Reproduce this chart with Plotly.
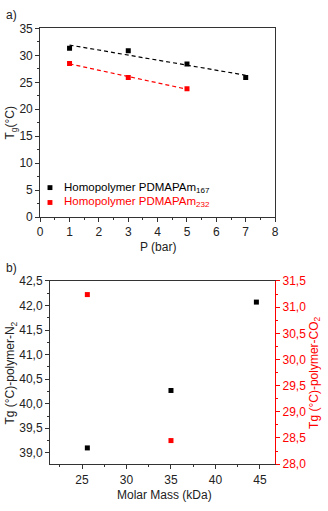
import numpy as np
import plotly.graph_objects as go

# ---------------------------------------------------------------------------
# Data
# ---------------------------------------------------------------------------
# a) Tg vs pressure
pressure_167 = [1, 3, 5, 7]
tg_167 = [31.3, 30.85, 28.4, 25.9]
pressure_232 = [1, 3, 5]
tg_232 = [28.5, 25.9, 23.8]

# b) Tg vs molar mass
molar_mass_n2 = [25.6, 35.0, 44.6]
tg_n2 = [39.1, 40.27, 42.07]
molar_mass_co2 = [25.6, 35.0]
tg_co2 = [31.24, 28.45]

W, H = 328, 511
RED = "#ff0000"
FONT = "Liberation Sans"


def px_x(p):
    return p / W


def px_y(p):
    return 1 - p / H


def fit(x, y):
    k, b = np.polyfit(x, y, 1)
    xs = np.array([min(x), max(x)])
    return xs, k * xs + b


fig = go.Figure()

# panel a markers + linear fits
for xs, ys, col in [(pressure_167, tg_167, "black"), (pressure_232, tg_232, RED)]:
    fx, fy = fit(xs, ys)
    fig.add_trace(go.Scatter(x=fx, y=fy, mode="lines", xaxis="x", yaxis="y",
                             line=dict(color=col, width=1.2, dash="4px,3px"),
                             showlegend=False))
    fig.add_trace(go.Scatter(x=xs, y=ys, mode="markers", xaxis="x", yaxis="y",
                             marker=dict(symbol="square", size=5, color=col),
                             showlegend=False))

# panel b markers
fig.add_trace(go.Scatter(x=molar_mass_n2, y=tg_n2, mode="markers", xaxis="x2", yaxis="y3",
                         marker=dict(symbol="square", size=5, color="black"),
                         showlegend=False))
fig.add_trace(go.Scatter(x=molar_mass_co2, y=tg_co2, mode="markers", xaxis="x2", yaxis="y4",
                         marker=dict(symbol="square", size=5, color=RED),
                         showlegend=False))

base = dict(showgrid=False, zeroline=False, showline=True, linecolor="#333333", linewidth=1,
            ticks="outside", ticklen=4, tickwidth=1, tickcolor="#333333",
            tickfont=dict(family=FONT, size=12, color="#222222"))
inside = dict(showgrid=False, zeroline=False, showline=False, ticks="inside", ticklen=3,
              tickcolor="#333333", showticklabels=False)

dom_a_x = [px_x(38), px_x(278)]
dom_a_y = [px_y(216), px_y(22)]
dom_b_x = [px_x(48), px_x(278)]
dom_b_y = [px_y(470), px_y(281.7)]

fig.update_layout(
    width=W, height=H,
    margin=dict(l=0, r=0, t=0, b=0),
    paper_bgcolor="white", plot_bgcolor="white",
    separators=",.",
    showlegend=False,
    font=dict(family=FONT, size=12, color="#222222"),
    xaxis=dict(**base, domain=dom_a_x, anchor="y", range=[0, 8], dtick=1, mirror=True,
               minor=dict(dtick=0.5, ticks="outside", ticklen=2, tickcolor="#333333")),
    yaxis=dict(**base, domain=dom_a_y, anchor="x", range=[0, 35], dtick=5, mirror=True,
               minor=dict(dtick=2.5, ticks="outside", ticklen=2, tickcolor="#333333")),
    xaxis3=dict(**inside, overlaying="x", anchor="y", side="top", range=[0, 8], dtick=1),
    yaxis5=dict(**inside, overlaying="y", anchor="x", side="right", range=[0, 35], dtick=5),
    xaxis2=dict(**base, domain=dom_b_x, anchor="y3", range=[21.4, 46.7], tick0=25, dtick=5,
                mirror=True,
                minor=dict(dtick=2.5, ticks="outside", ticklen=2, tickcolor="#333333")),
    xaxis4=dict(**inside, overlaying="x2", anchor="y3", side="top", range=[21.4, 46.7],
                tick0=25, dtick=2.5),
    yaxis3=dict(**base, domain=dom_b_y, anchor="x2", range=[38.77, 42.5], dtick=0.5,
                tickformat=".1f",
                minor=dict(dtick=0.25, ticks="outside", ticklen=2, tickcolor="#333333")),
    yaxis4=dict(showgrid=False, zeroline=False, showline=True, linecolor=RED, linewidth=1,
                ticks="outside", ticklen=4, tickcolor=RED,
                tickfont=dict(family=FONT, size=12, color=RED),
                overlaying="y3", anchor="x2", side="right", range=[28, 31.5], dtick=0.5,
                tickformat=".1f",
                minor=dict(dtick=0.25, ticks="outside", ticklen=2, tickcolor=RED)),
)

# legend drawn by hand inside panel a
legend_items = [("Homopolymer PDMAPAm<sub>167</sub>", "black", 185.7),
                ("Homopolymer PDMAPAm<sub>232</sub>", RED, 201.0)]
for label, col, yy in legend_items:
    fig.add_shape(type="rect", xref="paper", yref="paper",
                  x0=px_x(45.5), x1=px_x(50.5), y0=px_y(yy + 2.5), y1=px_y(yy - 2.5),
                  fillcolor=col, line=dict(width=0))
    fig.add_annotation(x=px_x(60), y=px_y(yy), xref="paper", yref="paper", text=label,
                       showarrow=False, xanchor="left", yanchor="middle",
                       font=dict(family=FONT, size=11.5, color=col))

annots = [
    dict(text="a)", x=px_x(1), y=px_y(8), xanchor="left"),
    dict(text="b)", x=px_x(1), y=px_y(268), xanchor="left"),
    dict(text="P (bar)", x=px_x(158), y=px_y(247), xanchor="center"),
    dict(text="Molar Mass (kDa)", x=px_x(165), y=px_y(502), xanchor="center"),
    dict(text="T<sub>g</sub>(°C)", x=px_x(8), y=px_y(119), textangle=-90, xanchor="center"),
    dict(text="Tg (°C)-polymer-N<sub>2</sub>", x=px_x(8), y=px_y(376), textangle=-90,
         xanchor="center"),
    dict(text="Tg (°C)-polymer-CO<sub>2</sub>", x=px_x(318), y=px_y(376), textangle=-90,
         xanchor="center", font=dict(family=FONT, size=12, color=RED)),
]
for a in annots:
    a.setdefault("font", dict(family=FONT, size=12, color="#222222"))
    fig.add_annotation(xref="paper", yref="paper", showarrow=False, yanchor="middle", **a)

# page body has a default 8px margin; drop it so the figure sits at the window origin
fig.write_html("out.html", config={"displayModeBar": False},
               post_script="document.body.style.margin='0';")
